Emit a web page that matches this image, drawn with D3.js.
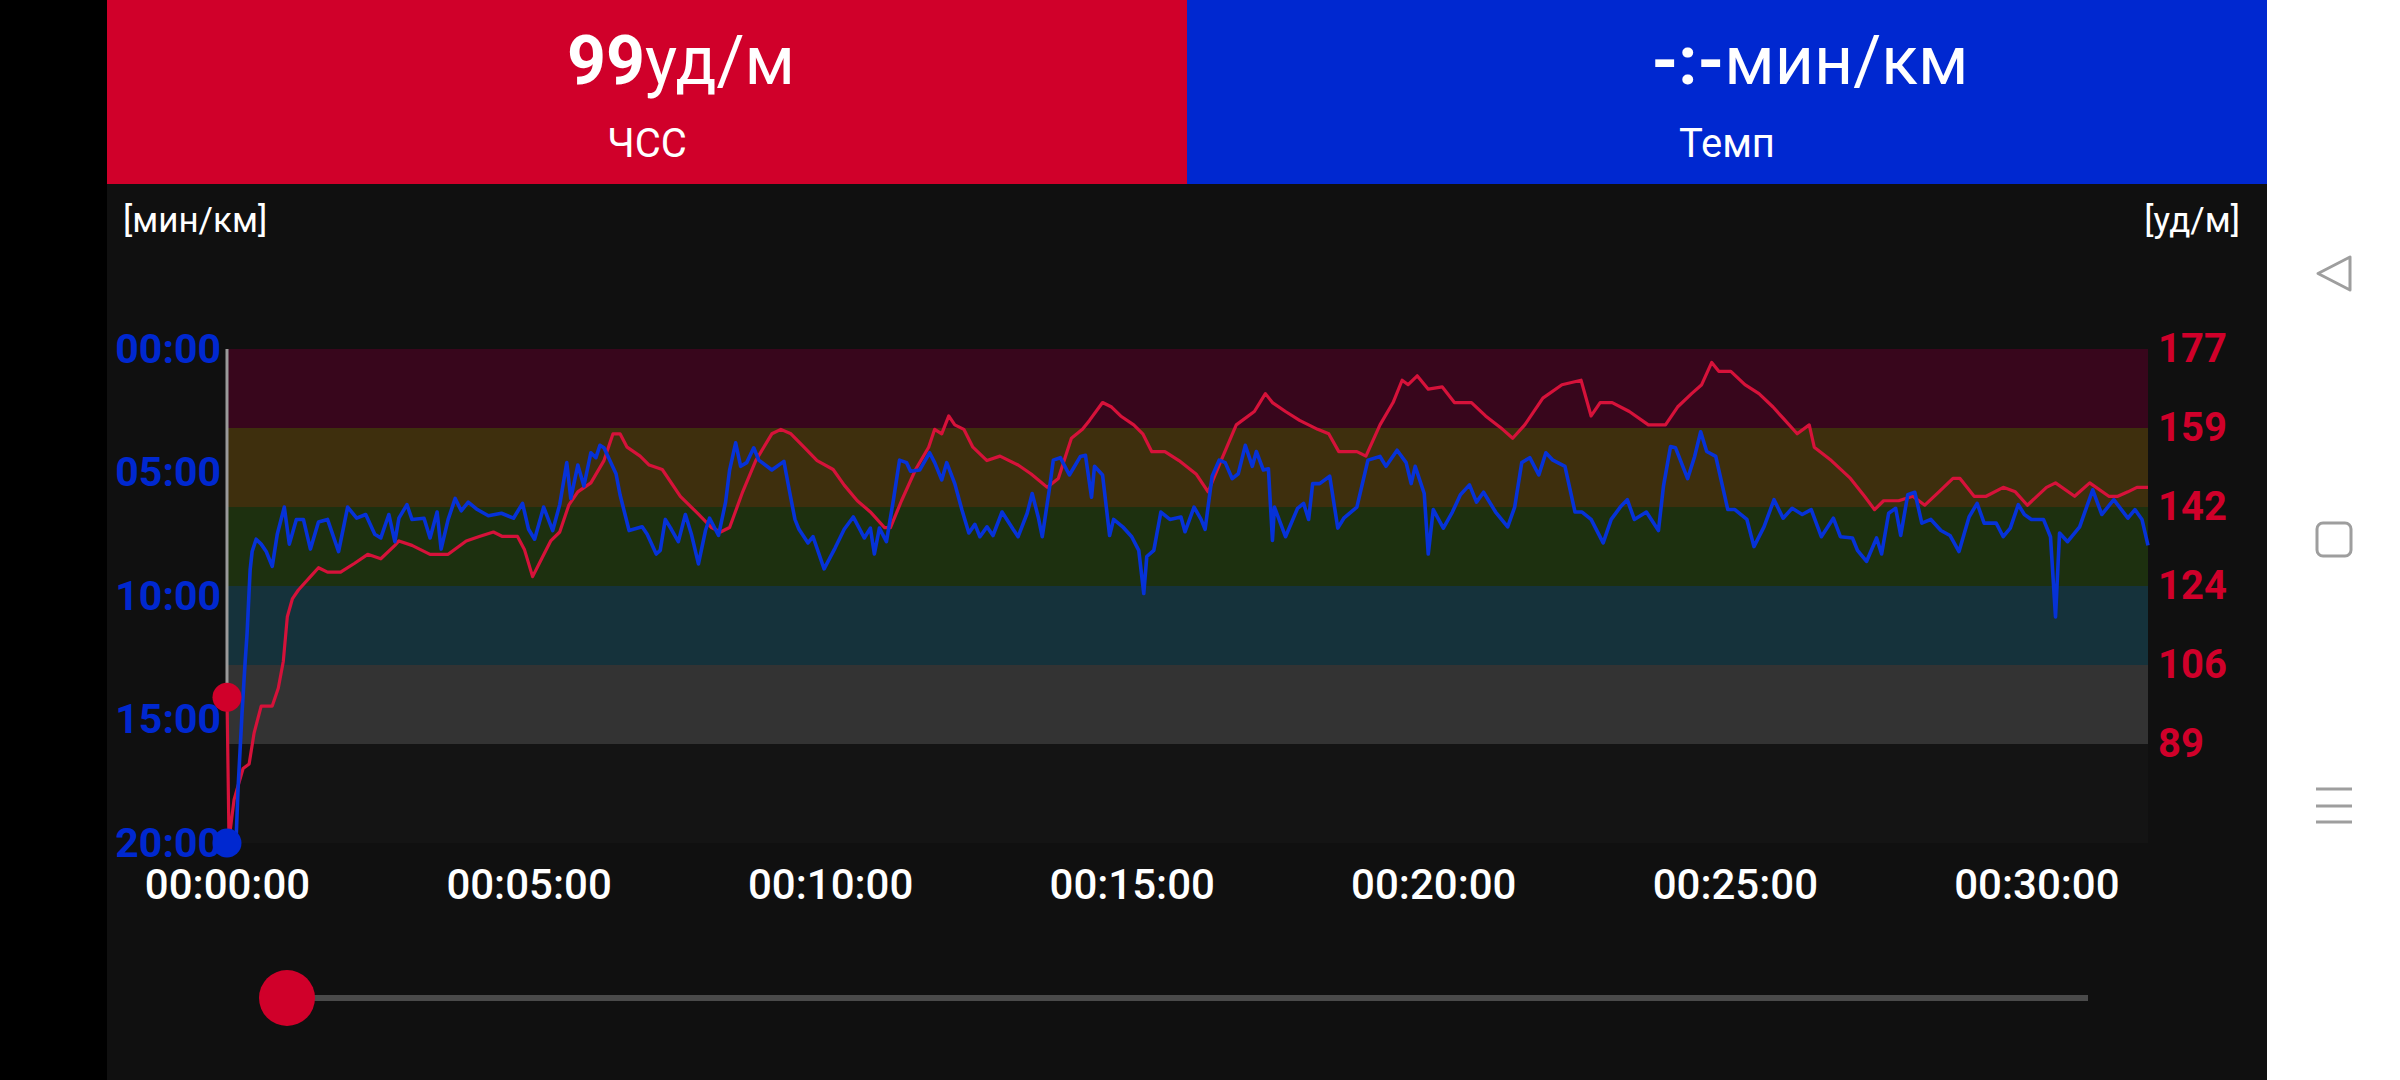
<!DOCTYPE html>
<html>
<head>
<meta charset="utf-8">
<script src="https://cdn.jsdelivr.net/npm/d3@7"></script>
<style>
  html, body { margin: 0; padding: 0; background: #000; }
  svg { display: block; font-family: Roboto, "Noto Sans", sans-serif; }
</style>
</head>
<body>
<script>
// heart rate, seconds from start -> bpm
let hrTime = [0, 2, 7, 16, 22, 27, 34, 45, 51, 56, 60, 65, 71, 83, 91, 100, 113, 127, 140, 153, 167, 171, 184, 202, 220, 238, 251, 265, 274, 289, 296, 304, 313, 322, 331, 340, 349, 362, 375, 384, 391, 398, 411, 420, 433, 451, 469, 482, 491, 500, 513, 526, 542, 551, 561, 574, 587, 603, 614, 627, 640, 654, 660, 671, 685, 698, 704, 711, 718, 724, 733, 742, 756, 769, 787, 800, 816, 827, 840, 851, 858, 871, 880, 889, 902, 911, 920, 933, 947, 964, 976, 987, 1004, 1022, 1033, 1040, 1053, 1067, 1085, 1096, 1106, 1124, 1133, 1147, 1160, 1169, 1175, 1184, 1195, 1209, 1221, 1238, 1252, 1269, 1279, 1291, 1309, 1328, 1347, 1357, 1366, 1378, 1395, 1414, 1431, 1443, 1457, 1467, 1477, 1484, 1496, 1510, 1524, 1538, 1548, 1562, 1574, 1579, 1596, 1615, 1629, 1639, 1648, 1663, 1677, 1689, 1703, 1717, 1724, 1738, 1750, 1767, 1779, 1791, 1810, 1819, 1838, 1853, 1872, 1881, 1891, 1900, 1911]
let hrValue = [99, 67, 76, 83, 84, 91, 97, 97, 101, 107, 117, 121, 123, 126, 128, 127, 127, 129, 131, 130, 133, 134, 133, 131, 131, 134, 135, 136, 135, 135, 132, 126, 130, 134, 136, 142, 145, 147, 152, 158, 158, 155, 153, 151, 150, 144, 140, 137, 136, 137, 145, 152, 158, 159, 158, 155, 152, 150, 146.5, 143, 140.5, 137, 137, 143, 150, 155, 159, 158, 162, 160, 159, 155, 152, 153, 151, 149, 146, 148, 157, 159, 161, 165, 164, 162, 160, 158, 154, 154, 152, 149, 145, 151, 160, 163, 167, 165, 163, 161, 159, 158, 154, 154, 153, 160, 165, 170, 169, 171, 168, 168.5, 165, 165, 162, 159, 157, 160, 166, 169, 170, 162, 165, 165, 163, 160, 160, 164, 167, 169, 174, 172, 172, 169, 167, 164, 161.5, 158, 160, 155, 152, 148, 144, 141, 143, 143, 144, 142, 145, 148, 148, 144, 144, 146, 145, 142, 146, 147, 144, 147, 144, 144, 145, 146, 146]

// pace, seconds from start -> minutes per km
let paceTime = [0, 9, 11, 15, 18, 20, 23, 25, 29, 34, 39, 45, 50, 57, 62, 69, 76, 83, 91, 100, 111, 120, 129, 138, 147, 153, 161, 167, 171, 179, 184, 196, 202, 209, 213, 220, 227, 233, 240, 249, 260, 273, 285, 294, 300, 306, 315, 324, 331, 338, 342, 349, 355, 362, 367, 371, 375, 387, 391, 400, 413, 418, 427, 431, 436, 442, 449, 456, 462, 469, 476, 480, 489, 496, 500, 506, 511, 517, 524, 529, 542, 554, 560, 565, 569, 578, 583, 594, 605, 614, 623, 634, 640, 644, 649, 656, 663, 669, 676, 680, 689, 699, 704, 711, 716, 724, 731, 738, 744, 749, 756, 762, 771, 782, 787, 796, 801, 807, 811, 818, 822, 829, 838, 849, 854, 860, 863, 871, 878, 882, 891, 900, 907, 912, 915, 922, 929, 938, 949, 953, 962, 969, 973, 980, 987, 993, 1000, 1006, 1013, 1020, 1024, 1031, 1036, 1040, 1042, 1053, 1065, 1071, 1076, 1080, 1087, 1097, 1105, 1111, 1124, 1135, 1147, 1153, 1164, 1173, 1178, 1182, 1191, 1195, 1200, 1210, 1219, 1227, 1236, 1243, 1250, 1262, 1274, 1281, 1288, 1296, 1305, 1312, 1319, 1331, 1341, 1348, 1357, 1369, 1377, 1386, 1393, 1400, 1412, 1424, 1429, 1436, 1441, 1453, 1460, 1466, 1472, 1481, 1493, 1500, 1512, 1519, 1529, 1539, 1548, 1557, 1567, 1576, 1586, 1598, 1605, 1617, 1622, 1631, 1641, 1646, 1653, 1660, 1665, 1672, 1679, 1686, 1695, 1705, 1714, 1723, 1733, 1741, 1748, 1760, 1767, 1774, 1782, 1788, 1795, 1807, 1814, 1819, 1823, 1831, 1843, 1856, 1865, 1877, 1891, 1898, 1905, 1911]
let paceValue = [20, 19.9, 17.8, 14.7, 12.7, 11.5, 8.95, 8.2, 7.7, 7.9, 8.2, 8.8, 7.5, 6.4, 7.9, 6.9, 6.9, 8.1, 7.0, 6.9, 8.2, 6.4, 6.85, 6.7, 7.5, 7.65, 6.7, 7.8, 6.85, 6.3, 6.9, 6.85, 7.65, 6.6, 8.1, 6.9, 6.05, 6.55, 6.2, 6.5, 6.75, 6.65, 6.85, 6.25, 7.3, 7.7, 6.4, 7.35, 6.3, 4.6, 6.05, 4.7, 5.55, 4.2, 4.4, 3.9, 4.0, 5.05, 5.9, 7.35, 7.2, 7.5, 8.3, 8.15, 6.9, 7.3, 7.8, 6.7, 7.5, 8.7, 7.35, 6.85, 7.55, 6.2, 4.9, 3.8, 4.75, 4.6, 4.0, 4.5, 4.9, 4.55, 5.85, 6.9, 7.3, 7.85, 7.6, 8.9, 8.05, 7.3, 6.8, 7.65, 7.25, 8.3, 7.25, 7.8, 6.1, 4.5, 4.6, 4.95, 4.9, 4.2, 4.6, 5.3, 4.6, 5.45, 6.5, 7.45, 7.1, 7.6, 7.2, 7.55, 6.6, 7.3, 7.6, 6.65, 5.85, 6.8, 7.6, 5.7, 4.5, 4.4, 5.1, 4.35, 4.3, 6.0, 4.75, 5.1, 7.55, 6.9, 7.2, 7.6, 8.15, 9.9, 8.4, 8.15, 6.6, 6.9, 6.8, 7.4, 6.4, 6.9, 7.3, 5.15, 4.5, 4.6, 5.25, 5.05, 3.9, 4.75, 4.15, 4.9, 4.85, 7.75, 6.4, 7.6, 6.45, 6.25, 6.9, 5.45, 5.45, 5.15, 7.25, 6.85, 6.4, 4.5, 4.35, 4.75, 4.1, 4.6, 5.45, 4.75, 5.85, 8.3, 6.5, 7.25, 6.6, 5.9, 5.5, 6.2, 5.8, 6.6, 7.2, 6.4, 4.6, 4.4, 5.1, 4.2, 4.5, 4.75, 6.6, 6.6, 6.9, 7.85, 6.9, 6.4, 6.1, 6.9, 6.6, 7.35, 5.55, 3.95, 4.0, 5.25, 4.35, 3.35, 4.15, 4.35, 6.5, 6.5, 6.9, 8.0, 7.2, 6.1, 6.85, 6.45, 6.7, 6.5, 7.6, 6.85, 7.6, 7.65, 8.15, 8.6, 7.65, 8.3, 6.65, 6.45, 7.55, 5.9, 5.8, 7.05, 6.9, 7.35, 7.55, 8.2, 6.8, 6.25, 7.05, 7.05, 7.6, 7.25, 6.3, 6.7, 6.9, 6.9, 7.6, 10.85, 7.45, 7.8, 7.2, 5.7, 6.7, 6.1, 6.85, 6.5, 6.9, 7.95]

let hrMax = 177
let zonePct = [0.5, 0.6, 0.7, 0.8, 0.9, 1.0]
let zoneColors = ['#333333', '#15323b', '#1d300f', '#3e2f0d', '#38061c']
let paceTicks = [0, 5, 10, 15, 20]
let timeTicks = [0, 300, 600, 900, 1200, 1500, 1800]
let totalSeconds = 1911

let headerHr = 99
let headerHrUnit = 'уд/м'
let headerHrLabel = 'ЧСС'
let headerPace = '-:-'
let headerPaceUnit = 'мин/км'
let headerPaceLabel = 'Темп'

let red = '#d0002a'
let blue = '#0028d0'
let lineRed = '#d6123a'
let lineBlue = '#0632d8'

let W = 2400, H = 1080
let plot = { left: 227, right: 2148, top: 349, bottom: 843 }

let svg = d3.select('body').append('svg')
    .attr('width', W)
    .attr('height', H)

// phone frame: black strip, app background, nav bar
svg.append('rect').attr('width', W).attr('height', H).attr('fill', '#000')
svg.append('rect').attr('x', 107).attr('y', 0).attr('width', 2160).attr('height', H).attr('fill', '#101010')
svg.append('rect').attr('x', 2267).attr('y', 0).attr('width', 133).attr('height', H).attr('fill', '#fff')

// header tiles
svg.append('rect').attr('x', 107).attr('y', 0).attr('width', 1080).attr('height', 184).attr('fill', red)
svg.append('rect').attr('x', 1187).attr('y', 0).attr('width', 1080).attr('height', 184).attr('fill', blue)

let hv = svg.append('text').attr('x', 681).attr('y', 84)
    .attr('text-anchor', 'middle').attr('fill', '#fff').style('font-size', '68px')
hv.append('tspan').attr('font-weight', 'bold').text(headerHr)
hv.append('tspan').text(headerHrUnit)
svg.append('text').attr('x', 647).attr('y', 157)
    .attr('text-anchor', 'middle').attr('fill', '#fff').style('font-size', '40px').text(headerHrLabel)

let pv = svg.append('text').attr('x', 1810).attr('y', 84)
    .attr('text-anchor', 'middle').attr('fill', '#fff').style('font-size', '68px')
pv.append('tspan').attr('font-weight', 'bold').text(headerPace)
pv.append('tspan').text(headerPaceUnit)
svg.append('text').attr('x', 1727).attr('y', 157)
    .attr('text-anchor', 'middle').attr('fill', '#fff').style('font-size', '40px').text(headerPaceLabel)

// unit labels
svg.append('text').attr('x', 123).attr('y', 232).attr('fill', '#fff')
    .style('font-size', '35px').text('[мин/км]')
svg.append('text').attr('x', 2240).attr('y', 232).attr('fill', '#fff')
    .attr('text-anchor', 'end').style('font-size', '35px').text('[уд/м]')

// scales
let x = d3.scaleLinear().domain([0, totalSeconds]).range([plot.left, plot.right])
let yHr = d3.scaleLinear().domain([hrMax * 0.5, hrMax]).range([744, plot.top])
let yPace = d3.scaleLinear().domain([0, 20]).range([plot.top, plot.bottom])

// plot background + HR zones
svg.append('rect')
    .attr('x', plot.left).attr('y', plot.top)
    .attr('width', plot.right - plot.left).attr('height', plot.bottom - plot.top)
    .attr('fill', '#141414')

let zones = d3.range(zonePct.length - 1).map(i => ({ lo: hrMax * zonePct[i], hi: hrMax * zonePct[i + 1], c: zoneColors[i] }))
svg.selectAll('.zone')
    .data(zones)
    .enter().append('rect')
    .attr('class', 'zone')
    .attr('x', plot.left)
    .attr('width', plot.right - plot.left)
    .attr('y', d => yHr(d.hi))
    .attr('height', d => yHr(d.lo) - yHr(d.hi))
    .attr('fill', d => d.c)

// axes
function fmtPace(m) { return d3.format('02d')(Math.floor(m)) + ':' + d3.format('02d')(Math.round((m % 1) * 60)) }
function fmtTime(s) {
    let h = Math.floor(s / 3600), m = Math.floor(s / 60) % 60, sec = s % 60
    return [h, m, sec].map(d3.format('02d')).join(':')
}

svg.append('g')
    .attr('transform', 'translate(221,0)')
    .call(d3.axisLeft(yPace).tickValues(paceTicks).tickFormat(fmtPace).tickSize(0).tickPadding(0))
    .call(g => g.select('.domain').remove())
    .selectAll('text')
    .attr('fill', blue).attr('font-weight', 'bold').style('font-size', '41px').attr('font-family', 'Roboto')

svg.append('g')
    .attr('transform', 'translate(2158,0)')
    .call(d3.axisRight(yHr).tickValues(zonePct.map(p => hrMax * p)).tickFormat(d => Math.round(d)).tickSize(0).tickPadding(0))
    .call(g => g.select('.domain').remove())
    .selectAll('text')
    .attr('fill', red).attr('font-weight', 'bold').style('font-size', '40px').attr('font-family', 'Roboto')

svg.append('g')
    .attr('transform', 'translate(0,' + plot.bottom + ')')
    .call(d3.axisBottom(x).tickValues(timeTicks).tickFormat(fmtTime).tickSize(0).tickPadding(26))
    .call(g => g.select('.domain').remove())
    .selectAll('text')
    .attr('fill', '#fff').attr('font-weight', 500).style('font-size', '42px').attr('font-family', 'Roboto')

// lines
let hrData = hrTime.map((t, i) => ({ t: t, v: hrValue[i] }))
let paceData = paceTime.map((t, i) => ({ t: t, v: paceValue[i] }))

svg.append('clipPath').attr('id', 'plotclip').append('rect')
    .attr('x', plot.left - 2).attr('y', plot.top)
    .attr('width', plot.right - plot.left + 4).attr('height', plot.bottom - plot.top)

// cursor
svg.append('line')
    .attr('x1', x(0)).attr('x2', x(0))
    .attr('y1', plot.top).attr('y2', yHr(hrValue[0]))
    .attr('stroke', '#9a9a9a').attr('stroke-width', 3)

svg.append('path')
    .datum(hrData)
    .attr('clip-path', 'url(#plotclip)')
    .attr('fill', 'none')
    .attr('stroke', lineRed)
    .attr('stroke-width', 3.2)
    .attr('stroke-linejoin', 'round')
    .attr('d', d3.line().x(d => x(d.t)).y(d => Math.min(yHr(d.v), plot.bottom)))

svg.append('path')
    .datum(paceData)
    .attr('clip-path', 'url(#plotclip)')
    .attr('fill', 'none')
    .attr('stroke', lineBlue)
    .attr('stroke-width', 3.6)
    .attr('stroke-linejoin', 'round')
    .attr('d', d3.line().x(d => x(d.t)).y(d => yPace(d.v)))

svg.append('circle').attr('cx', x(0)).attr('cy', yHr(hrValue[0])).attr('r', 14.5).attr('fill', red)
svg.append('circle').attr('cx', x(0)).attr('cy', yPace(paceValue[0])).attr('r', 14.5).attr('fill', blue)

// slider
svg.append('line')
    .attr('x1', 287).attr('x2', 2088).attr('y1', 998).attr('y2', 998)
    .attr('stroke', '#4a4a4a').attr('stroke-width', 6)
svg.append('circle').attr('cx', 287).attr('cy', 998).attr('r', 28).attr('fill', red)

// android nav buttons
let nav = svg.append('g').attr('fill', 'none').attr('stroke', '#9e9e9e').attr('stroke-width', 3).attr('stroke-linejoin', 'round')
nav.append('path').attr('d', 'M2350,257 L2350,290 L2318,273.5 Z')
nav.append('rect').attr('x', 2317).attr('y', 523).attr('width', 34).attr('height', 33).attr('rx', 6)
nav.selectAll('.bar').data([789, 806, 822]).enter().append('line')
    .attr('x1', 2316).attr('x2', 2352).attr('y1', d => d).attr('y2', d => d)
</script>
</body>
</html>
